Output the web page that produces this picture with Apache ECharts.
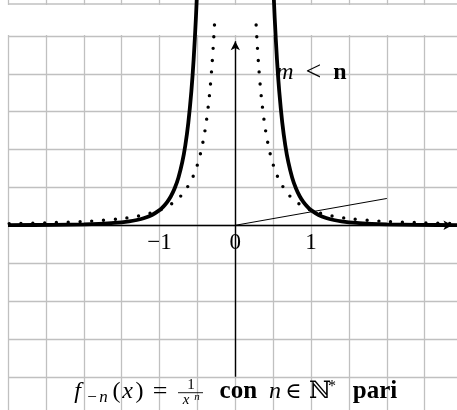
<!DOCTYPE html>
<html><head><meta charset="utf-8">
<script src="https://cdn.jsdelivr.net/npm/echarts@6/dist/echarts.min.js"></script>
<style>html,body{margin:0;padding:0;background:#fff}#c{width:457px;height:410px}</style>
</head><body><div id="c"></div>
<script>
// ---- data ----
const xRange = [-3, 3];
const yRange = [-12.5, 15];
const tickX = [-1, 0, 1];
const tickLabels = ['−1', '0', '1'];
// f(x) = 1/x^4 (solid), right branch (left branch is its mirror)
const n4X = [0.5, 0.52, 0.55, 0.58, 0.62, 0.66, 0.7, 0.75, 0.8, 0.85, 0.9, 0.95, 1.0, 1.1, 1.2, 1.3, 1.4, 1.6, 1.8, 2.0, 2.4, 3.0];
const n4Y = [16, 13.68, 10.93, 8.84, 6.77, 5.27, 4.165, 3.16, 2.441, 1.916, 1.524, 1.228, 1, 0.683, 0.482, 0.350, 0.260, 0.153, 0.0953, 0.0625, 0.0301, 0.0123];
// f(x) = 1/x^2 (dotted), right branch
const n2X = [0.275, 0.29, 0.31, 0.33, 0.35, 0.38, 0.41, 0.45, 0.5, 0.55, 0.6, 0.7, 0.8, 0.9, 1.0, 1.15, 1.3, 1.5, 1.75, 2.0, 2.5, 3.0];
const n2Y = [13.22, 11.89, 10.41, 9.18, 8.16, 6.93, 5.95, 4.94, 4, 3.31, 2.78, 2.04, 1.5625, 1.235, 1, 0.756, 0.592, 0.444, 0.327, 0.25, 0.16, 0.111];
// thin segment from the origin
const segX = [0, 2];
const segY = [0, 1.77];
// axes (start, arrow end)
const xAxisLine = [[-3, 0], [2.866, 0]];
const yAxisLine = [[0, -10], [0, 12.15]];

// ---- chart ----
const FF = "'Liberation Serif','DejaVu Serif',serif";
const pairs = (xs, ys, s) => xs.map((x, i) => [s * x, ys[i]]);
const GRID = '#c0c0c0';

function txt(cx, base, s, size, fstyle, weight) {
  return {
    type: 'text', z: 10,
    style: {
      x: cx, y: base - 0.3375 * size, text: s,
      font: (fstyle || 'normal') + ' ' + (weight || 'normal') + ' ' + size + 'px ' + FF,
      fill: '#000', align: 'center', verticalAlign: 'middle'
    }
  };
}

const solid = { color: '#000', width: 3.8 };
const dotted = { color: '#000', width: 3.4, type: [0, 11.8], cap: 'round' };

const option = {
  animation: false,
  backgroundColor: '#fff',
  grid: { left: 8, top: -2, width: 454.6, height: 416.7, containLabel: false, outerBoundsMode: 'none' },
  xAxis: {
    type: 'value', min: xRange[0], max: xRange[1], interval: 0.5,
    axisLine: { show: false }, axisTick: { show: false }, axisLabel: { show: false },
    splitLine: { show: true, lineStyle: { color: GRID, width: 1.3 } }
  },
  yAxis: {
    type: 'value', min: yRange[0], max: yRange[1], interval: 2.5,
    axisLine: { show: false }, axisTick: { show: false }, axisLabel: { show: false },
    splitLine: { show: true, lineStyle: { color: GRID, width: 1.3 } }
  },
  series: [
    { type: 'line', data: pairs(n2X, n2Y, -1), symbol: 'none', smooth: 0.3, lineStyle: dotted, z: 3 },
    { type: 'line', data: pairs(n2X, n2Y, 1), symbol: 'none', smooth: 0.3, lineStyle: dotted, z: 3 },
    {
      type: 'line', data: pairs(segX, segY, 1), symbol: 'none', lineStyle: { color: '#000', width: 1 }, z: 3,
      markLine: {
        silent: true, symbol: ['none', 'arrow'], symbolSize: [7, 9],
        label: { show: false },
        lineStyle: { color: '#000', width: 1.4, type: 'solid' },
        emphasis: { disabled: true },
        data: [
          [{ coord: xAxisLine[0] }, { coord: xAxisLine[1] }],
          [{ coord: yAxisLine[0] }, { coord: yAxisLine[1] }]
        ]
      }
    },
    { type: 'line', data: pairs(n4X, n4Y, -1), symbol: 'none', smooth: 0.3, lineStyle: solid, z: 4 },
    { type: 'line', data: pairs(n4X, n4Y, 1), symbol: 'none', smooth: 0.3, lineStyle: solid, z: 4 },
    {
      type: 'scatter', z: 5, symbol: 'circle', symbolSize: 0, silent: true,
      itemStyle: { color: '#000' },
      data: tickX.map((x, i) => ({ value: [x, 0], name: tickLabels[i] })),
      label: {
        show: true, position: 'bottom', distance: 6,
        formatter: p => p.name, color: '#000', opacity: 1,
        textBorderWidth: 0, fontFamily: FF, fontSize: 23
      }
    }
  ],
  graphic: { elements: [
    { type: 'rect', z: 1, shape: { x: 0, y: 5, width: 457, height: 30 }, style: { fill: '#fff' } },
    { type: 'line', z: 1, shape: { x1: 8, y1: 4, x2: 457, y2: 4 }, style: { stroke: GRID, lineWidth: 1.3 } },
    // m < n label
    txt(285, 81, 'm', 24, 'italic'),
    txt(313.5, 82, '<', 28),
    txt(340, 81, 'n', 24, 'normal', 'bold'),
    // bottom formula
    txt(77.5, 400, 'f', 24, 'italic'),
    txt(92, 403, '−', 17),
    txt(103.5, 403, 'n', 17, 'italic'),
    txt(116.5, 400, '(', 24),
    txt(127.5, 400, 'x', 24, 'italic'),
    txt(139.5, 400, ')', 24),
    txt(160, 401, '=', 26),
    txt(191, 390, '1', 15),
    { type: 'line', z: 10, shape: { x1: 178, y1: 392.7, x2: 203, y2: 392.7 }, style: { stroke: '#000', lineWidth: 0.9 } },
    txt(186, 405, 'x', 15, 'italic'),
    txt(197, 400.5, 'n', 11, 'italic'),
    txt(238.3, 400, 'con', 25, 'normal', 'bold'),
    txt(275, 400, 'n', 24, 'italic'),
    txt(293.5, 400, '∈', 22),
    txt(320, 400, 'ℕ', 24),
    txt(332, 392, '*', 16),
    txt(375, 400, 'pari', 25, 'normal', 'bold')
  ] }
};
const chart = echarts.init(document.getElementById('c'));
chart.setOption(option);
</script></body></html>
